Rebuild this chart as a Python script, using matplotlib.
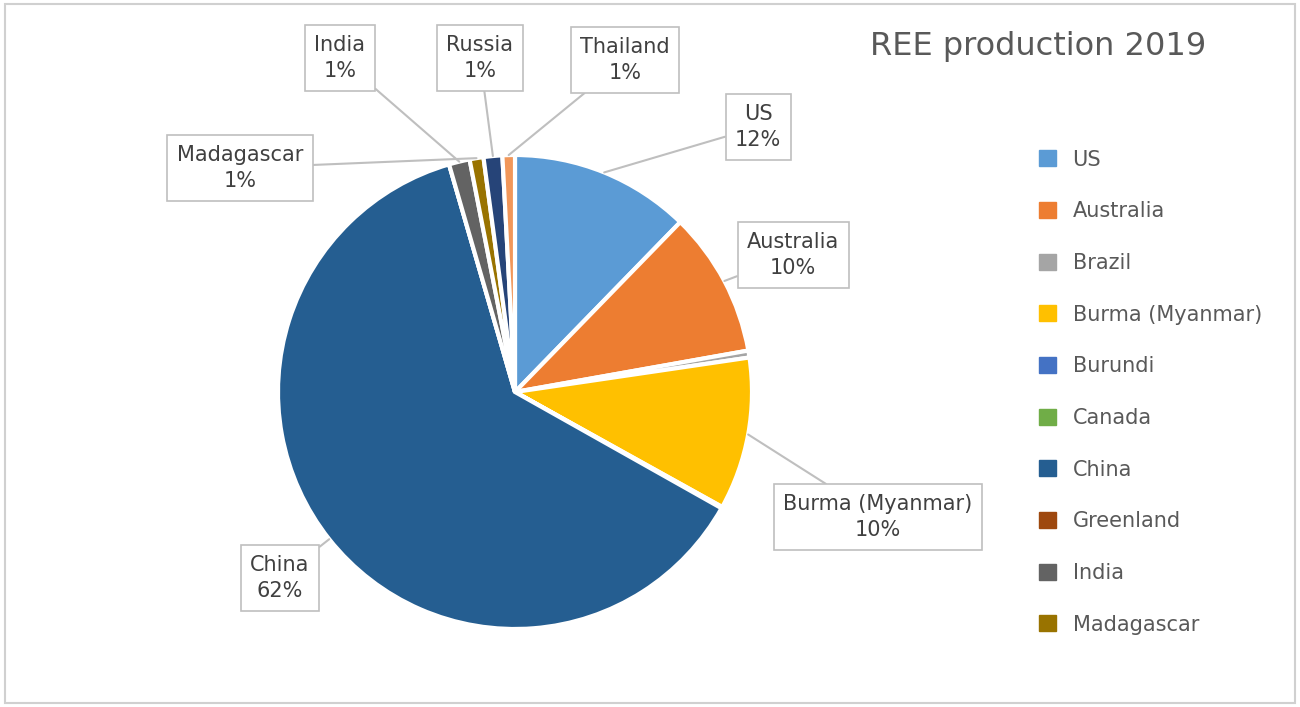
import matplotlib.pyplot as plt
import numpy as np

countries = ['US', 'Australia', 'Brazil', 'Burma (Myanmar)', 'Burundi', 'Canada', 'China',
             'Greenland', 'India', 'Madagascar', 'Russia', 'Thailand']
production = [26000, 21000, 1000, 22000, 200, 0, 132000, 0, 3000, 2000, 2700, 1800]
colors = ['#5B9BD5', '#ED7D31', '#A5A5A5', '#FFC000', '#4472C4', '#70AD47', '#255E91',
          '#9E480E', '#636363', '#997300', '#264478', '#F1975A']
shown_labels = {'US': (758, 127), 'Australia': (793, 255), 'Burma (Myanmar)': (878, 517),
                'China': (280, 578), 'Madagascar': (240, 168), 'India': (340, 58),
                'Russia': (480, 58), 'Thailand': (625, 60)}
legend_count = 10

W, H = 1300, 707
fig = plt.figure(figsize=(13, 7.07), dpi=100)
fig.patches.append(plt.Rectangle((0.004, 0.006), 0.992, 0.988, transform=fig.transFigure,
                                 fill=False, edgecolor='#d0d0d0', lw=1.5))
cx, cy, r = 515 / W, 1 - 392 / H, 237
ax = fig.add_axes([cx - r / W, cy - r / H, 2 * r / W, 2 * r / H])
wedges, _ = ax.pie(production, colors=colors, startangle=90, counterclock=False,
                   wedgeprops=dict(edgecolor='white', linewidth=3))
ax.set_xlim(-1, 1)
ax.set_ylim(-1, 1)
ax.set_aspect('equal')

total = sum(production)
for w, name, val in zip(wedges, countries, production):
    if name not in shown_labels:
        continue
    ang = np.deg2rad((w.theta1 + w.theta2) / 2)
    px, py = shown_labels[name]
    ax.annotate(f"{name}\n{round(100 * val / total)}%", xy=(np.cos(ang), np.sin(ang)),
                xytext=(px / W, 1 - py / H), textcoords='figure fraction',
                ha='center', va='center', fontsize=15, color='#404040', linespacing=1.4,
                bbox=dict(boxstyle='square,pad=0.45', fc='white', ec='#bfbfbf', lw=1.2),
                arrowprops=dict(arrowstyle='-', color='#bfbfbf', lw=1.5, shrinkA=0, shrinkB=0),
                annotation_clip=False)

fig.text(1038 / W, 1 - 47 / H, 'REE production 2019', ha='center', va='center',
         fontsize=23, color='#595959')
handles = [plt.Rectangle((0, 0), 1, 1, color=c) for c in colors[:legend_count]]
fig.legend(handles, countries[:legend_count], loc='upper left', bbox_to_anchor=(0.785, 0.815),
           frameon=False, fontsize=15, handlelength=0.8, handleheight=0.8,
           labelspacing=1.52, labelcolor='#595959', handletextpad=0.8)
fig.savefig('out.png', dpi=100)
